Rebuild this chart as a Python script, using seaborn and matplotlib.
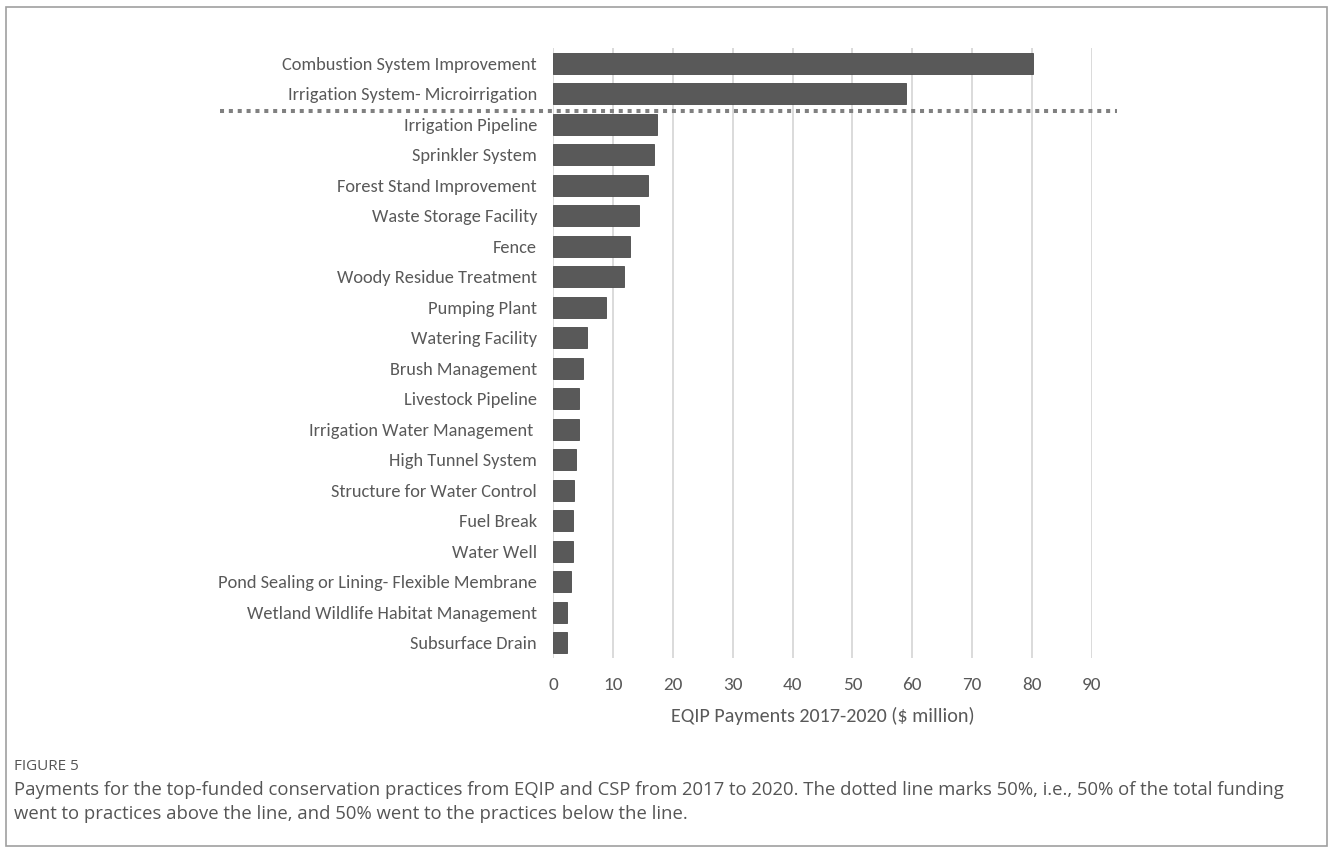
import numpy as np
import pandas as pd
import matplotlib
matplotlib.use('Agg')
import matplotlib.pyplot as plt
import matplotlib.transforms as mtransforms
from matplotlib.patches import Rectangle
import seaborn as sns

# practices, top-funded first
practices = ['Combustion System Improvement', 'Irrigation System- Microirrigation',
             'Irrigation Pipeline', 'Sprinkler System', 'Forest Stand Improvement',
             'Waste Storage Facility', 'Fence', 'Woody Residue Treatment', 'Pumping Plant',
             'Watering Facility', 'Brush Management', 'Livestock Pipeline',
             'Irrigation Water Management ', 'High Tunnel System', 'Structure for Water Control',
             'Fuel Break', 'Water Well', 'Pond Sealing or Lining- Flexible Membrane',
             'Wetland Wildlife Habitat Management', 'Subsurface Drain']
payments = [80.2, 58.9, 17.4, 16.8, 15.8, 14.4, 12.9, 11.8, 8.8, 5.6,
            5.0, 4.4, 4.4, 3.8, 3.5, 3.4, 3.4, 3.0, 2.4, 2.4]
x_ticks = [0, 10, 20, 30, 40, 50, 60, 70, 80, 90]
half_line_pos = 1.55  # 50% of funding between row 1 and row 2

df = pd.DataFrame({'practice': practices, 'payment': payments})

sns.set_style('white')
plt.rcParams['font.family'] = ['Carlito', 'Lato', 'DejaVu Sans']

W, H = 1330, 848
fig = plt.figure(figsize=(W / 100, H / 100), dpi=100)
ax = fig.add_axes([553 / W, 1 - 658 / H, (1092 - 553) / W, (658 - 48) / H])

sns.barplot(data=df, x='payment', y='practice', orient='h', color='#595959',
            saturation=1, width=0.68, edgecolor='#4a4a4a', linewidth=0.6, ax=ax, zorder=3)

ax.set_xlim(0, 90)
ax.set_ylim(len(practices) - 0.5, -0.5)
ax.set_xticks(x_ticks)
ax.grid(axis='x', color='#dadada', linewidth=1.4, zorder=0)
ax.grid(axis='y', visible=False)
for s in ax.spines.values():
    s.set_visible(False)
ax.tick_params(axis='both', length=0, labelcolor='#595959')
ax.tick_params(axis='y', pad=11.5, labelsize=13.2)
ax.tick_params(axis='x', pad=14, labelsize=13.8)
ax.set_ylabel('')
ax.set_xlabel('EQIP Payments 2017-2020 ($ million)', fontsize=14.5, color='#595959', labelpad=10)

# dotted 50% line, from the label area to past the axis end
trans = mtransforms.blended_transform_factory(fig.transFigure, ax.transData)
ax.plot([220 / W, 1117 / W], [half_line_pos, half_line_pos], transform=trans,
        color='#808080', linewidth=2.9, linestyle=(0, (1, 1.2)), clip_on=False, zorder=4)

# caption
cap_font = ['Open Sans', 'DejaVu Sans']
fig.text(14 / W, 1 - 766 / H, 'FIGURE 5', fontsize=11, color='#555555', va='center',
         family=cap_font)
fig.text(14 / W, 1 - 790 / H,
         'Payments for the top-funded conservation practices from EQIP and CSP from 2017 to 2020. '
         'The dotted line marks 50%, i.e., 50% of the total funding',
         fontsize=13.35, color='#555555', va='center', family=cap_font)
fig.text(14 / W, 1 - 814 / H,
         'went to practices above the line, and 50% went to the practices below the line.',
         fontsize=13.35, color='#555555', va='center', family=cap_font)

fig.patches.append(Rectangle((6 / W, 2 / H), (1327 - 6) / W, (841 - 2) / H,
                             transform=fig.transFigure, fill=False,
                             edgecolor='#a0a0a0', linewidth=1.2))

fig.savefig('out.png', dpi=100)
